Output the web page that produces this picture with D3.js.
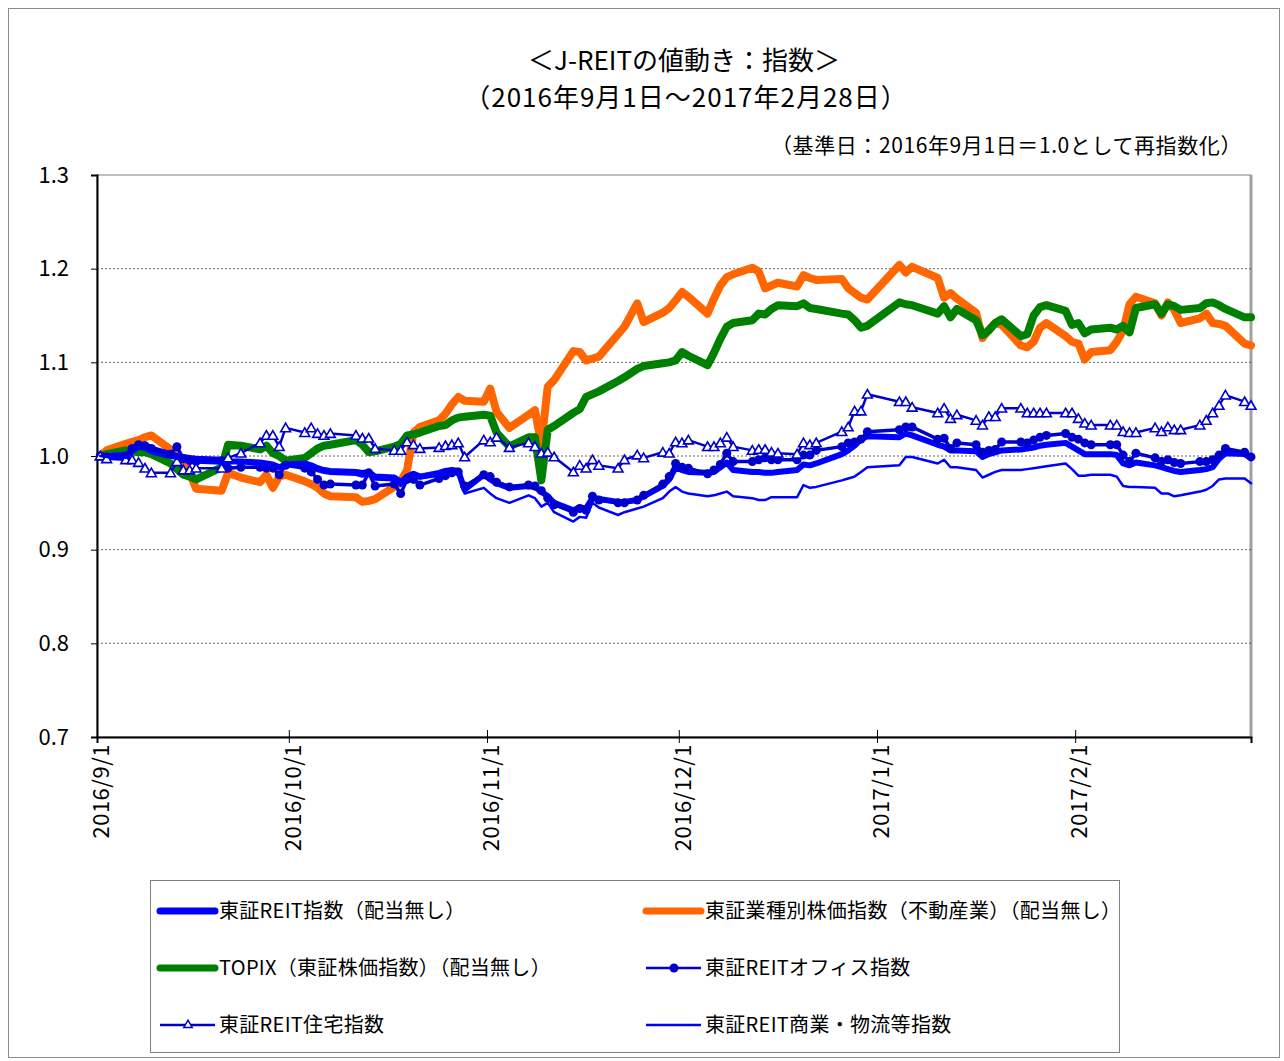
<!DOCTYPE html>
<html><head><meta charset="utf-8">
<script src="https://cdn.jsdelivr.net/npm/d3@7"></script>
<style>
html,body{margin:0;padding:0;background:#fff;}
svg{display:block;font-family:"Noto Sans CJK JP","Noto Sans",sans-serif;}
</style></head>
<body>
<svg id="chart" width="1284" height="1061"></svg>
<script>
// ---------- data ----------
const dates = [
"2016-09-01","2016-09-02","2016-09-05","2016-09-06","2016-09-07","2016-09-08","2016-09-09","2016-09-12","2016-09-13","2016-09-14","2016-09-15","2016-09-16","2016-09-20","2016-09-21","2016-09-23","2016-09-26","2016-09-27","2016-09-28","2016-09-29","2016-09-30",
"2016-10-03","2016-10-04","2016-10-05","2016-10-06","2016-10-07","2016-10-11","2016-10-12","2016-10-13","2016-10-14","2016-10-17","2016-10-18","2016-10-19","2016-10-20","2016-10-21","2016-10-24","2016-10-25","2016-10-26","2016-10-27","2016-10-28","2016-10-31",
"2016-11-01","2016-11-02","2016-11-04","2016-11-07","2016-11-08","2016-11-09","2016-11-10","2016-11-11","2016-11-14","2016-11-15","2016-11-16","2016-11-17","2016-11-18","2016-11-21","2016-11-22","2016-11-24","2016-11-25","2016-11-28","2016-11-29","2016-11-30",
"2016-12-01","2016-12-02","2016-12-05","2016-12-06","2016-12-07","2016-12-08","2016-12-09","2016-12-12","2016-12-13","2016-12-14","2016-12-15","2016-12-16","2016-12-19","2016-12-20","2016-12-21","2016-12-22","2016-12-26","2016-12-27","2016-12-28","2016-12-29","2016-12-30",
"2017-01-04","2017-01-05","2017-01-06","2017-01-10","2017-01-11","2017-01-12","2017-01-13","2017-01-16","2017-01-17","2017-01-18","2017-01-19","2017-01-20","2017-01-23","2017-01-24","2017-01-25","2017-01-26","2017-01-27","2017-01-30","2017-01-31",
"2017-02-01","2017-02-02","2017-02-03","2017-02-06","2017-02-07","2017-02-08","2017-02-09","2017-02-10","2017-02-13","2017-02-14","2017-02-15","2017-02-16","2017-02-17","2017-02-20","2017-02-21","2017-02-22","2017-02-23","2017-02-24","2017-02-27","2017-02-28"];

// 東証REIT指数（配当無し）
const reitIndex = [
1.000,1.000,1.001,1.006,1.011,1.012,1.008,1.002,1.000,0.999,0.998,0.997,0.996,0.994,0.994,0.993,0.992,0.991,0.988,0.991,
0.992,0.990,0.987,0.985,0.984,0.983,0.982,0.983,0.978,0.977,0.972,0.978,0.981,0.978,0.982,0.984,0.985,0.984,0.964,0.980,
0.975,0.971,0.966,0.968,0.967,0.962,0.957,0.950,0.942,0.945,0.944,0.955,0.954,0.951,0.951,0.953,0.957,0.968,0.975,0.988,
0.985,0.983,0.982,0.983,0.988,0.993,0.985,0.983,0.983,0.982,0.982,0.983,0.985,0.991,0.990,0.992,1.002,1.006,1.011,1.018,1.021,
1.020,1.024,1.022,1.012,1.010,1.006,1.006,1.005,0.999,1.002,1.004,1.006,1.007,1.008,1.009,1.011,1.012,1.014,1.010,
1.006,1.002,1.002,1.002,1.001,0.992,0.990,0.993,0.990,0.988,0.986,0.984,0.983,0.985,0.986,0.988,0.997,1.003,1.002,0.998];

// 東証業種別株価指数（不動産業）（配当無し）
const realEstate = [
1.000,1.006,1.013,1.015,1.017,1.020,1.022,1.007,1.002,0.995,0.982,0.965,0.963,0.982,0.977,0.972,0.980,0.966,0.978,0.980,
0.973,0.970,0.966,0.960,0.957,0.956,0.951,0.952,0.954,0.967,0.973,0.985,1.025,1.031,1.038,1.045,1.055,1.063,1.059,1.058,
1.072,1.047,1.030,1.044,1.049,1.012,1.074,1.081,1.112,1.111,1.102,1.104,1.106,1.130,1.138,1.163,1.143,1.153,1.158,1.166,
1.175,1.170,1.152,1.168,1.182,1.191,1.194,1.201,1.197,1.179,1.182,1.185,1.181,1.193,1.190,1.188,1.189,1.179,1.174,1.169,1.167,
1.204,1.196,1.202,1.190,1.169,1.174,1.168,1.153,1.126,1.135,1.142,1.140,1.118,1.116,1.122,1.137,1.142,1.128,1.122,
1.120,1.103,1.111,1.113,1.122,1.134,1.162,1.170,1.163,1.150,1.164,1.156,1.142,1.147,1.152,1.142,1.141,1.139,1.120,1.118];

// TOPIX（東証株価指数）（配当無し）
const topix = [
1.000,1.002,1.006,1.005,1.004,1.004,1.002,0.992,0.986,0.980,0.978,0.975,0.988,1.012,1.011,1.007,1.011,1.003,1.000,0.995,
0.998,1.003,1.008,1.011,1.012,1.017,1.012,1.004,1.005,1.010,1.013,1.022,1.023,1.025,1.032,1.033,1.038,1.041,1.042,1.044,
1.043,1.025,1.010,1.020,1.020,0.974,1.028,1.032,1.046,1.050,1.063,1.066,1.069,1.080,1.084,1.093,1.096,1.099,1.100,1.102,
1.111,1.107,1.097,1.110,1.125,1.138,1.142,1.145,1.152,1.151,1.157,1.161,1.160,1.163,1.158,1.157,1.152,1.151,1.145,1.137,1.139,
1.164,1.162,1.161,1.152,1.160,1.148,1.157,1.145,1.129,1.134,1.142,1.146,1.128,1.130,1.150,1.159,1.161,1.155,1.140,
1.142,1.131,1.135,1.137,1.135,1.139,1.132,1.158,1.162,1.152,1.162,1.160,1.156,1.158,1.163,1.164,1.161,1.157,1.148,1.148];

// 東証REITオフィス指数
const office = [
1.000,0.999,1.000,1.008,1.012,1.011,1.008,1.002,1.010,0.997,0.995,0.994,0.995,0.987,0.988,0.988,0.987,0.987,0.980,0.990,
0.987,0.983,0.975,0.969,0.970,0.969,0.969,0.982,0.968,0.970,0.960,0.975,0.975,0.969,0.976,0.979,0.982,0.983,0.968,0.980,
0.978,0.972,0.967,0.969,0.968,0.963,0.955,0.948,0.940,0.944,0.942,0.957,0.953,0.950,0.950,0.953,0.958,0.970,0.978,0.992,
0.988,0.987,0.981,0.985,0.991,1.003,0.994,0.994,0.996,0.998,0.996,0.996,0.996,1.001,1.001,1.006,1.010,1.014,1.015,1.018,1.026,
1.028,1.031,1.031,1.018,1.019,1.008,1.014,1.012,1.004,1.006,1.007,1.015,1.015,1.014,1.017,1.020,1.022,1.024,1.020,
1.018,1.014,1.012,1.012,1.012,1.001,0.994,1.003,0.998,0.994,0.996,0.993,0.992,0.994,0.994,0.996,1.001,1.008,1.004,0.999];

// 東証REIT住宅指数
const residential = [
1.000,0.997,0.996,0.996,0.993,0.987,0.982,0.982,0.994,0.985,0.985,0.987,0.987,0.998,1.003,1.014,1.022,1.022,1.010,1.030,
1.025,1.030,1.024,1.022,1.024,1.022,1.019,1.019,1.008,1.006,1.006,1.015,1.012,1.008,1.009,1.011,1.012,1.014,0.999,1.017,
1.015,1.020,1.009,1.014,1.010,1.003,1.004,0.999,0.983,0.990,0.987,0.996,0.990,0.987,0.996,1.001,0.998,1.004,1.003,1.015,
1.014,1.017,1.010,1.010,1.014,1.020,1.010,1.006,1.007,1.007,1.004,1.003,1.002,1.014,1.012,1.014,1.026,1.031,1.048,1.048,1.066,
1.058,1.058,1.052,1.046,1.051,1.040,1.044,1.038,1.033,1.042,1.042,1.051,1.051,1.046,1.046,1.046,1.046,1.046,1.046,
1.040,1.035,1.033,1.033,1.033,1.026,1.025,1.025,1.030,1.026,1.031,1.028,1.028,1.033,1.038,1.046,1.054,1.065,1.058,1.054];

// 東証REIT商業・物流等指数
const retail = [
1.000,0.999,0.998,1.003,1.008,1.007,1.003,0.998,0.997,0.995,0.994,0.993,0.992,0.993,0.993,0.990,0.990,0.989,0.987,0.989,
0.990,0.987,0.984,0.982,0.981,0.980,0.978,0.980,0.975,0.974,0.968,0.975,0.978,0.976,0.979,0.981,0.982,0.981,0.960,0.966,
0.960,0.955,0.950,0.958,0.955,0.946,0.950,0.940,0.930,0.935,0.934,0.950,0.945,0.937,0.940,0.944,0.946,0.955,0.962,0.967,
0.962,0.960,0.957,0.958,0.960,0.962,0.957,0.955,0.953,0.953,0.956,0.956,0.956,0.969,0.966,0.967,0.974,0.976,0.978,0.983,0.988,
0.990,0.999,0.999,0.992,0.996,0.988,0.988,0.985,0.977,0.980,0.983,0.985,0.985,0.986,0.987,0.988,0.989,0.992,0.986,
0.979,0.979,0.980,0.980,0.978,0.968,0.967,0.967,0.966,0.960,0.960,0.957,0.958,0.962,0.964,0.968,0.975,0.976,0.976,0.971];

const yTicks = [0.7,0.8,0.9,1.0,1.1,1.2,1.3];
const xTickLabels = ["2016-09-01","2016-10-01","2016-11-01","2016-12-01","2017-01-01","2017-02-01"];
const seriesNames = ["東証REIT指数（配当無し）","東証業種別株価指数（不動産業）（配当無し）","TOPIX（東証株価指数）（配当無し）","東証REITオフィス指数","東証REIT住宅指数","東証REIT商業・物流等指数"];
const titleLines = ["＜J-REITの値動き：指数＞","（2016年9月1日～2017年2月28日）"];
const noteText = "（基準日：2016年9月1日＝1.0として再指数化）";

// ---------- drawing ----------
const svg = d3.select("#chart");
const parse = d3.timeParse("%Y-%m-%d");
const L=97, R=1251, T=175, B=737;

const x = d3.scaleTime()
  .domain([parse("2016-09-01"), d3.timeHour.offset(parse("2017-02-28"),12)])
  .range([L,R]);
const y = d3.scaleLinear().domain([0.7,1.3]).range([B,T]);

// outer frame
svg.append("rect").attr("x",8.5).attr("y",8.5).attr("width",1271).attr("height",1049)
  .attr("fill","none").attr("stroke","#8c8c8c").attr("stroke-width",1);

// titles
svg.append("text").attr("x",684).attr("y",70).attr("text-anchor","middle")
  .attr("font-size",26).text(titleLines[0]);
svg.append("text").attr("x",686).attr("y",107).attr("text-anchor","middle")
  .attr("font-size",26).attr("letter-spacing",1).text(titleLines[1]);
svg.append("text").attr("x",1242).attr("y",153).attr("text-anchor","end")
  .attr("font-size",21).attr("letter-spacing",0.6).text(noteText);

// plot area frame
svg.append("rect").attr("x",L).attr("y",T).attr("width",R-L).attr("height",B-T)
  .attr("fill","#fff").attr("stroke","#808080").attr("stroke-width",1);
svg.append("line").attr("x1",R).attr("x2",R).attr("y1",T).attr("y2",B+1)
  .attr("stroke","#a0a0a0").attr("stroke-width",3);

// gridlines
svg.append("g").selectAll("line").data(yTicks.filter(v=>v>0.7 && v<1.3)).join("line")
  .attr("x1",L).attr("x2",R).attr("y1",d=>y(d)).attr("y2",d=>y(d))
  .attr("stroke","#404040").attr("stroke-width",0.8).attr("stroke-dasharray","2,2");

// y axis
const gy = svg.append("g").attr("transform",`translate(${L},0)`)
  .call(d3.axisLeft(y).tickValues(yTicks).tickFormat(d3.format(".1f")).tickSize(6).tickPadding(22));
gy.select(".domain").attr("stroke","#000").attr("stroke-width",2);
gy.selectAll("text").attr("font-size",22).attr("font-family","'Noto Sans CJK JP',sans-serif").attr("fill","#000");

// x axis
const gx = svg.append("g").attr("transform",`translate(0,${B})`)
  .call(d3.axisBottom(x).tickValues(xTickLabels.map(parse)).tickFormat(d3.timeFormat("%Y/%-m/%-d")).tickSize(6));
gx.select(".domain").attr("stroke","#000").attr("stroke-width",2);
gx.selectAll(".tick line").attr("y1",-7).attr("y2",6).attr("stroke","#000");
gx.selectAll("text")
  .attr("transform","rotate(-90)").attr("text-anchor","end")
  .attr("x",-7).attr("y",4).attr("dy","0.35em")
  .attr("font-size",22).attr("letter-spacing",0.5).attr("font-family","'Noto Sans CJK JP',sans-serif").attr("fill","#000");

// series
const mk = vals => vals.map((v,i)=>({date:d3.timeHour.offset(parse(dates[i]),12), v}));
const line = d3.line().x(d=>x(d.date)).y(d=>y(d.v));
const plot = svg.append("g");

const styles = [
  {vals:realEstate, color:"#FF6600", w:8},
  {vals:topix, color:"#008000", w:8},
  {vals:reitIndex, color:"#0000FF", w:6},
  {vals:office, color:"#0000CC", w:3.5, marker:"circle"},
  {vals:residential, color:"#0000CC", w:2.5, marker:"triangle"},
  {vals:retail, color:"#0000FF", w:2.5}
];
styles.forEach(s=>{
  const data = mk(s.vals);
  plot.append("path").datum(data).attr("d",line).attr("fill","none")
    .attr("stroke",s.color).attr("stroke-width",s.w).attr("stroke-linejoin","round").attr("stroke-linecap","round");
  if(s.marker==="circle"){
    plot.append("g").selectAll("circle").data(data).join("circle")
      .attr("cx",d=>x(d.date)).attr("cy",d=>y(d.v)).attr("r",4.5).attr("fill",s.color);
  } else if(s.marker==="triangle"){
    const sym = d3.symbol().type(d3.symbolTriangle).size(42);
    plot.append("g").selectAll("path").data(data).join("path")
      .attr("transform",d=>`translate(${x(d.date)},${y(d.v)+1})`).attr("d",sym)
      .attr("fill","#fff").attr("stroke",s.color).attr("stroke-width",1.6);
  }
});

// legend
svg.append("rect").attr("x",150.5).attr("y",880.5).attr("width",969).attr("height",172)
  .attr("fill","#fff").attr("stroke","#808080").attr("stroke-width",1);
const legendItems = [
  {name:seriesNames[0], color:"#0000FF", w:7, col:0, row:0},
  {name:seriesNames[1], color:"#FF6600", w:7, col:1, row:0},
  {name:seriesNames[2], color:"#008000", w:7, col:0, row:1},
  {name:seriesNames[3], color:"#0000CC", w:2.5, col:1, row:1, marker:"circle"},
  {name:seriesNames[4], color:"#0000CC", w:2.5, col:0, row:2, marker:"triangle"},
  {name:seriesNames[5], color:"#0000FF", w:2.5, col:1, row:2}
];
const colX = [160, 646], rowY = [911, 968, 1025];
legendItems.forEach(it=>{
  const x0 = colX[it.col], yy = rowY[it.row];
  const g = svg.append("g");
  g.append("line").attr("x1",x0).attr("x2",x0+55).attr("y1",yy).attr("y2",yy)
    .attr("stroke",it.color).attr("stroke-width",it.w).attr("stroke-linecap",it.w>5?"round":"butt");
  if(it.marker==="circle") g.append("circle").attr("cx",x0+28).attr("cy",yy).attr("r",4.5).attr("fill",it.color);
  if(it.marker==="triangle") g.append("path").attr("transform",`translate(${x0+28},${yy})`)
    .attr("d",d3.symbol().type(d3.symbolTriangle).size(30)).attr("fill","#fff").attr("stroke",it.color).attr("stroke-width",1.5);
  g.append("text").attr("x",x0+59).attr("y",yy+7).attr("font-size",20).attr("letter-spacing",0.3).text(it.name);
});
</script>
</body></html>
